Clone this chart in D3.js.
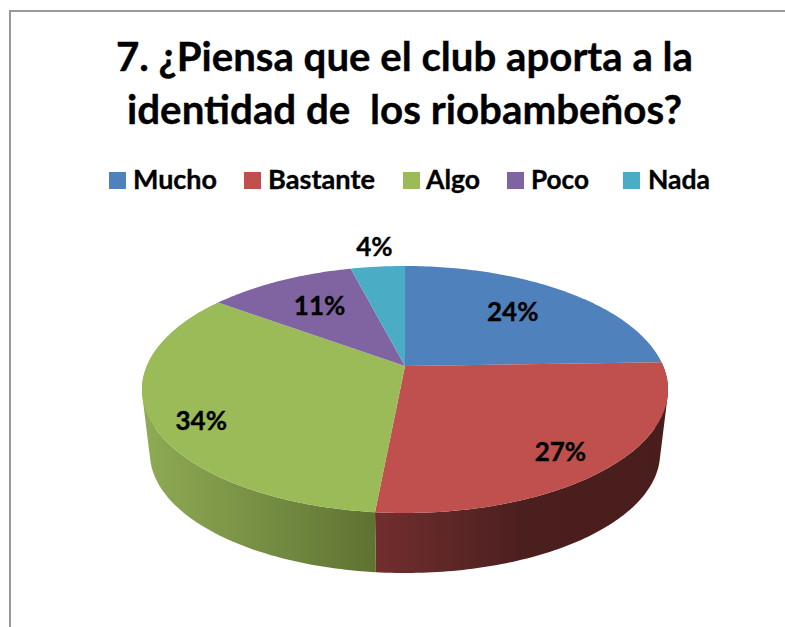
<!DOCTYPE html>
<html>
<head>
<meta charset="utf-8">
<script src="https://cdn.jsdelivr.net/npm/d3@7"></script>
<style>
html,body{margin:0;padding:0;background:#fff}
svg{display:block}
text{font-family:Lato,"Open Sans",sans-serif;font-weight:700;fill:#000;stroke:#000;stroke-width:.35px}
</style>
</head>
<body>
<svg id="chart" width="785" height="627"></svg>
<script>
const titleLines = ["7. ¿Piensa que el club aporta a la", "identidad de  los riobambeños?"];
const categories = ["Mucho", "Bastante", "Algo", "Poco", "Nada"];
const values = [24.49, 27.01, 33.6, 10.9, 4.0];
const colors = ["#4f81bd", "#c0504d", "#9bbb59", "#8064a2", "#4bacc6"];

// Layout only
const W = 785, H = 627;
const cx = 405, apexY = 366, topY = 266, frontY = 513, maxRx = 263;
const depth = 64.4, shrink = 0.97;
const legendSwatchX = [109, 244, 403, 507, 623];
const legendTextX = [133, 268, 426, 531, 648];
const legendTextW = [84, 107, 54, 58, 62];
const labelNudge = [[-10, 2], [14, 17], [-24, 18], [8, 4], [-10, -44]];

const svg = d3.select("#chart");
svg.append("rect").attr("width", W).attr("height", H).attr("fill", "#fff");
svg.append("path")
  .attr("d", `M${W},11H10V${H}`)
  .attr("fill", "none").attr("stroke", "#999").attr("stroke-width", 2);

// Title
const titleW = [577, 555], titleX = [116, 127], titleY = [71, 124];
svg.selectAll("text.title").data(titleLines).join("text")
  .attr("class", "title")
  .attr("x", (d, i) => titleX[i]).attr("y", (d, i) => titleY[i])
  .attr("font-size", 40)
  .attr("textLength", (d, i) => titleW[i])
  .attr("lengthAdjust", "spacingAndGlyphs")
  .attr("xml:space", "preserve")
  .style("white-space", "pre")
  .text(d => d);

// Legend
const lg = svg.append("g");
categories.forEach((c, i) => {
  lg.append("rect").attr("x", legendSwatchX[i]).attr("y", 172).attr("width", 17).attr("height", 17).attr("fill", colors[i]);
  lg.append("text").attr("x", legendTextX[i]).attr("y", 189).attr("font-size", 27)
    .attr("textLength", legendTextW[i]).attr("lengthAdjust", "spacingAndGlyphs").text(c);
});

// Perspective mapping of the pie's disk onto the screen
const k = (2 * apexY - topY - frontY) / (frontY - topY);
const b = frontY * (1 + k) - apexY;
const A = maxRx * Math.sqrt(1 - k * k);
function project(angle, r) {
  const u = r * Math.sin(angle), v = -r * Math.cos(angle);
  const den = 1 + k * v;
  return [cx + A * u / den, (apexY + b * v) / den];
}
function lower(p) {
  return [cx + (p[0] - cx) * shrink, apexY + (p[1] - apexY) * shrink + depth];
}

const total = d3.sum(values);
const arcs = d3.pie().sort(null).value(d => d)(values);
const line = d3.line();
function arcPoints(a) {
  const n = Math.max(8, Math.ceil((a.endAngle - a.startAngle) * 60));
  return d3.range(n + 1).map(i => project(a.startAngle + (a.endAngle - a.startAngle) * i / n, 1));
}

// Gradients for the side wall
const defs = svg.append("defs");
function gradient(id, x1, x2, stops) {
  const g = defs.append("linearGradient").attr("id", id)
    .attr("gradientUnits", "userSpaceOnUse").attr("x1", x1).attr("x2", x2).attr("y1", 0).attr("y2", 0);
  stops.forEach(s => g.append("stop").attr("offset", s[0]).attr("stop-color", s[1]));
}
gradient("wallRed", 375, 668, [[0, "#722e2e"], [0.5, "#4c1f1f"], [1, "#4a1d1d"]]);
gradient("wallGreen", 142, 375, [[0, "#8fab55"], [1, "#5f7332"]]);
const wallFill = [null, "url(#wallRed)", "url(#wallGreen)", null, null];

// Side wall, drawn as one compound path per visible slice
arcs.forEach((a, i) => {
  if (!wallFill[i]) return;
  const pts = arcPoints(a);
  let d = "";
  for (let j = 0; j < pts.length - 1; j++) {
    let q = [pts[j], pts[j + 1], lower(pts[j + 1]), lower(pts[j])];
    if (d3.polygonArea(q) < 0) q = q.reverse();
    d += line(q) + "Z";
  }
  svg.append("path").attr("d", d).attr("fill", wallFill[i]);
});

// Top of the pie
arcs.forEach((a, i) => {
  const pts = [project(0, 0), ...arcPoints(a)];
  svg.append("path").attr("d", line(pts) + "Z").attr("fill", colors[i]);
});

// Data labels
arcs.forEach((a, i) => {
  const p = project((a.startAngle + a.endAngle) / 2, 0.72);
  svg.append("text")
    .attr("x", p[0] + labelNudge[i][0]).attr("y", p[1] + labelNudge[i][1] + 9)
    .attr("text-anchor", "middle").attr("font-size", 26)
    .text(d3.format(".0f")(a.value / total * 100) + "%");
});
</script>
</body>
</html>
